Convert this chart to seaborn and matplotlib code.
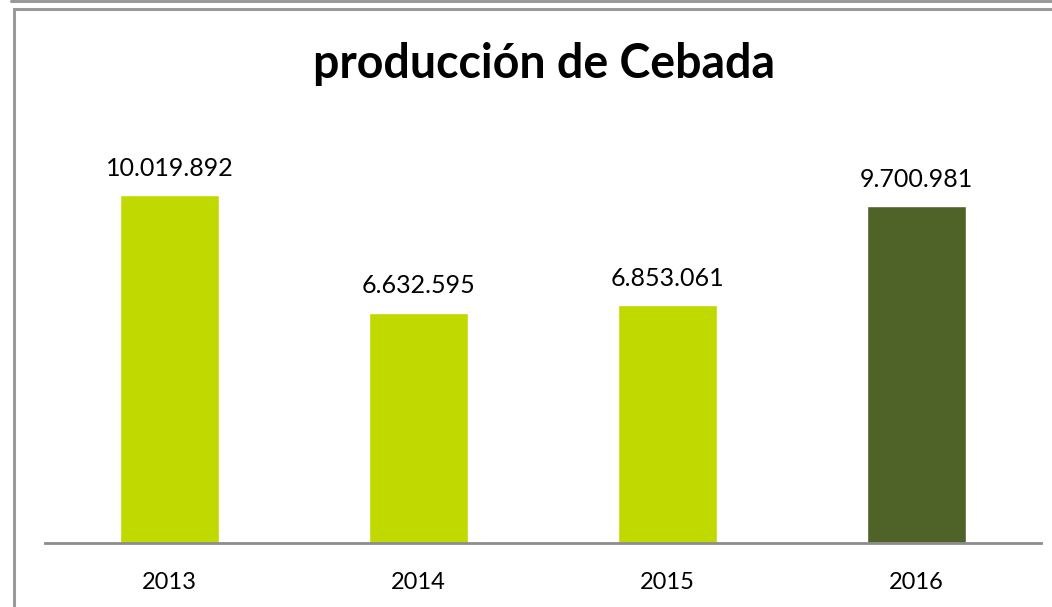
import matplotlib
matplotlib.use("Agg")
import matplotlib.pyplot as plt
import seaborn as sns
import pandas as pd
from matplotlib.patches import Rectangle
from matplotlib.lines import Line2D

# datos del gráfico
anios = ["2013", "2014", "2015", "2016"]
produccion = [10019892, 6632595, 6853061, 9700981]
colores = ["#C0D900", "#C0D900", "#C0D900", "#4F6228"]

data = pd.DataFrame({"anio": anios, "produccion": produccion})

sns.set_style("white")
plt.rcParams["font.family"] = ["Lato", "DejaVu Sans"]
plt.rcParams["text.color"] = "black"

fig = plt.figure(figsize=(10.52, 6.07), dpi=100)
W, H = 1052, 607

# marco gris alrededor del gráfico
fig.add_artist(Rectangle((14 / W, -0.1), 1.2, 1 - 9 / H + 0.1, transform=fig.transFigure,
                         fill=False, edgecolor="#9A9A9A", linewidth=2.2))
fig.add_artist(Line2D([11 / W, 1.0], [1 - 1 / H, 1 - 1 / H], transform=fig.transFigure,
                      color="#9A9A9A", linewidth=2.2))

ax = fig.add_axes([45 / W, 64 / H, 996 / W, 417 / H])
sns.barplot(data=data, x="anio", y="produccion", hue="anio", palette=colores,
            width=0.4, legend=False, saturation=1, ax=ax)

ax.set_ylim(0, 12000000)
ax.set_xlim(-0.5, 3.5)
for s in ["top", "right", "left"]:
    ax.spines[s].set_visible(False)
ax.spines["bottom"].set_color("#8C8C8C")
ax.spines["bottom"].set_linewidth(2)
ax.set_yticks([])
ax.set_xlabel("")
ax.set_ylabel("")
ax.tick_params(axis="x", length=0, pad=21, labelsize=17, colors="black")

for i, v in enumerate(produccion):
    ax.annotate(f"{v:,}".replace(",", "."), (i, v), xytext=(0, 11),
                textcoords="offset points", ha="center", va="bottom", fontsize=18,
                color="black")

fig.text(544 / W, 1 - 64 / H, "producción de Cebada", ha="center", va="center",
         fontsize=33.5, fontweight="bold", color="black")

fig.savefig("out.png", dpi=100)
